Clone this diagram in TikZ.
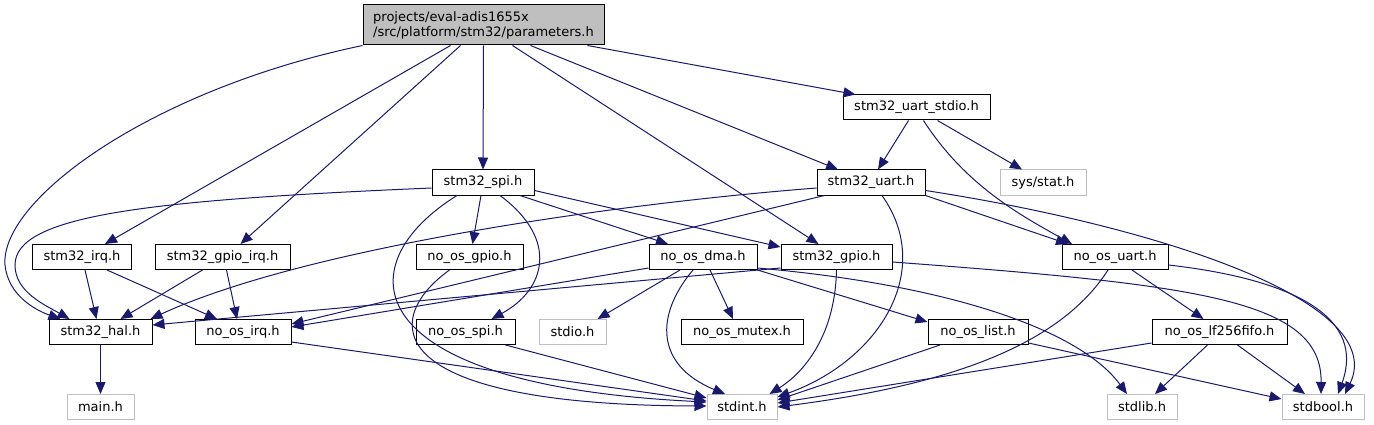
\documentclass[tikz,border=0pt]{standalone}
\usepackage{fontspec}
\setmainfont{DejaVu Sans}
\usetikzlibrary{arrows.meta}
\definecolor{edgeblue}{HTML}{191970}
\definecolor{rootgray}{HTML}{BFBFBF}
\definecolor{sysgray}{HTML}{BFBFBF}

\begin{document}
\begin{tikzpicture}[x=1pt, y=-1pt,
    hdr/.style={draw=black, fill=white, line width=1pt, minimum height=25pt, inner sep=0pt, font=\fontsize{13}{15}\selectfont},
    syshdr/.style={hdr, draw=sysgray},
    roothdr/.style={hdr, fill=rootgray, minimum height=40pt, align=left},
    dep/.style={draw=edgeblue, line width=1pt, -{Triangle[length=12pt,width=10pt]}}]
  \useasboundingbox (0,0) rectangle (1374,425);

  % Fichero de parametros (raiz)
  \node[roothdr, minimum width=241pt] (root) at (483.5,25) {projects/eval-adis1655x\\/src/platform/stm32/parameters.h};

  % Segunda fila
  \node[hdr, minimum width=147pt] (uartstdio) at (916.5,107.5) {stm32\_uart\_stdio.h};

  % Tercera fila
  \node[hdr, minimum width=102pt] (spi) at (483,182.5) {stm32\_spi.h};
  \node[hdr, minimum width=108pt] (uart) at (871,182.5) {stm32\_uart.h};
  \node[syshdr, minimum width=86pt] (stat) at (1043,182.5) {sys/stat.h};

  % Cuarta fila
  \node[hdr, minimum width=99pt] (irq) at (82,257) {stm32\_irq.h};
  \node[hdr, minimum width=135pt] (gpioirq) at (222.5,257) {stm32\_gpio\_irq.h};
  \node[hdr, minimum width=107pt] (nogpio) at (469.5,257) {no\_os\_gpio.h};
  \node[hdr, minimum width=108pt] (dma) at (703,257) {no\_os\_dma.h};
  \node[hdr, minimum width=111pt] (gpio) at (836.5,257) {stm32\_gpio.h};
  \node[hdr, minimum width=106pt] (nouart) at (1115,257) {no\_os\_uart.h};

  % Quinta fila
  \node[hdr, minimum width=103pt] (hal) at (100.5,332) {stm32\_hal.h};
  \node[hdr, minimum width=96pt] (noirq) at (243,332) {no\_os\_irq.h};
  \node[hdr, minimum width=99pt] (nospi) at (465.5,332) {no\_os\_spi.h};
  \node[syshdr, minimum width=67pt] (stdioh) at (572.5,332) {stdio.h};
  \node[hdr, minimum width=122pt] (mutex) at (742,332) {no\_os\_mutex.h};
  \node[hdr, minimum width=100pt] (list) at (978,332) {no\_os\_list.h};
  \node[hdr, minimum width=135pt] (fifo) at (1219.5,332) {no\_os\_lf256fifo.h};

  % Cabeceras del sistema
  \node[syshdr, minimum width=67pt] (mainh) at (100.5,407) {main.h};
  \node[syshdr, minimum width=70pt] (stdint) at (742,407) {stdint.h};
  \node[syshdr, minimum width=70pt] (stdlib) at (1142,407) {stdlib.h};
  \node[syshdr, minimum width=82pt] (stdbool) at (1323,407) {stdbool.h};

  % Dependencias de la raiz
  \draw[dep] (root.south west) .. controls (150,90) and (0,200) .. (5,265) .. controls (8,295) and (35,310) .. ([xshift=12pt]hal.north west);
  \draw[dep] ([xshift=-33pt]root.south) -- ([xshift=23pt]irq.north);
  \draw[dep] ([xshift=-23pt]root.south) -- ([xshift=18pt]gpioirq.north);
  \draw[dep] (root.south) -- (spi.north);
  \draw[dep] ([xshift=29pt]root.south) -- ([xshift=-18pt]gpio.north);
  \draw[dep] ([xshift=47pt]root.south) -- ([xshift=-33pt]uart.north);
  \draw[dep] ([xshift=104pt]root.south) -- ([xshift=-61pt]uartstdio.north);

  % stm32_uart_stdio.h
  \draw[dep] ([xshift=-8pt]uartstdio.south) -- ([xshift=7pt]uart.north);
  \draw[dep] ([xshift=21pt]uartstdio.south) -- ([xshift=-21pt]stat.north);
  \draw[dep] ([xshift=7pt]uartstdio.south) .. controls (965,185) and (1020,215) .. ([xshift=-43pt]nouart.north);

  % stm32_uart.h
  \draw[dep] (uart.south east) -- ([xshift=-47pt]nouart.north);
  \draw[dep] ([yshift=5pt]uart.south east) .. controls (1150,225) and (1390,300) .. ([xshift=22pt]stdbool.north);
  \draw[dep] ([xshift=11pt]uart.south) .. controls (935,270) and (880,360) .. ([yshift=-3pt]stdint.north east);
  \draw[dep] ([yshift=-5.5pt]uart.west) .. controls (600,205) and (300,250) .. ([xshift=-2pt]hal.north east);
  \draw[dep] ([xshift=8pt]uart.south west) -- ([yshift=-5pt]noirq.north east);

  % stm32_spi.h
  \draw[dep] ([xshift=-2pt]spi.south) -- ([xshift=3pt]nogpio.north);
  \draw[dep] ([xshift=37pt]spi.south) -- ([xshift=-35pt]dma.north);
  \draw[dep] ([yshift=5pt]spi.south east) -- ([yshift=-3pt]gpio.north west);
  \draw[dep] ([xshift=17pt]spi.south) .. controls (560,240) and (545,290) .. ([xshift=26pt]nospi.north);
  \draw[dep] ([xshift=-26pt]spi.south) .. controls (345,265) and (355,385) .. ([yshift=-8pt]stdint.north west);
  \draw[dep] ([yshift=-5.5pt]spi.west) .. controls (150,200) and (15,215) .. (15,265) .. controls (15,292) and (45,305) .. ([xshift=21pt]hal.north west);

  % stm32_gpio.h
  \draw[dep] ([yshift=2pt]gpio.south west) -- ([yshift=-6pt]hal.north east);
  \draw[dep] (gpio.south) .. controls (835,340) and (800,375) .. ([xshift=-8pt]stdint.north east);
  \draw[dep] ([yshift=-5pt]gpio.east) .. controls (1200,285) and (1322,300) .. ([xshift=-2pt]stdbool.north);

  % no_os_dma.h
  \draw[dep] ([yshift=2pt]dma.south west) -- ([yshift=-8pt]noirq.north east);
  \draw[dep] ([yshift=2pt]dma.south east) .. controls (950,285) and (1080,330) .. ([xshift=-15pt]stdlib.north);
  \draw[dep] (dma.south east) -- ([yshift=-3pt]list.north west);
  \draw[dep] ([xshift=-23pt]dma.south) -- ([xshift=25pt]stdioh.north);
  \draw[dep] ([xshift=7pt]dma.south) -- ([xshift=-9pt]mutex.north);
  \draw[dep] ([xshift=-10pt]dma.south) .. controls (655,315) and (655,365) .. ([xshift=-17pt]stdint.north);

  % no_os_uart.h
  \draw[dep] ([xshift=-7pt]nouart.south) .. controls (1060,345) and (950,385) .. (stdint.east);
  \draw[dep] ([xshift=17pt]nouart.south) -- ([xshift=-16pt]fifo.north);
  \draw[dep] ([yshift=-8pt]nouart.east) .. controls (1300,280) and (1365,320) .. ([xshift=15pt]stdbool.north);

  % Fila de irq / gpio_irq
  \draw[dep] ([xshift=3pt]irq.south) -- ([xshift=-4pt]hal.north);
  \draw[dep] ([xshift=25pt]irq.south) -- ([xshift=-26pt]noirq.north);
  \draw[dep] ([xshift=-20pt]gpioirq.south) -- ([xshift=20pt]hal.north);
  \draw[dep] ([xshift=4pt]gpioirq.south) -- ([xshift=-6pt]noirq.north);
  \draw[dep] (hal.south) -- (mainh.north);

  % Hacia stdint.h
  \draw[dep] ([xshift=-20pt]nogpio.south) .. controls (380,320) and (380,405) .. ([yshift=-12pt]stdint.north west);
  \draw[dep] ([xshift=40pt]nospi.south) -- ([yshift=-4pt]stdint.north west);
  \draw[dep] ([yshift=3pt]noirq.south east) -- ([yshift=-7pt]stdint.north west);

  % no_os_list.h y no_os_lf256fifo.h
  \draw[dep] ([xshift=-38pt]list.south) -- ([yshift=-6pt]stdint.north east);
  \draw[dep] ([yshift=2pt]list.south east) -- ([yshift=-5pt]stdbool.north west);
  \draw[dep] ([yshift=2pt]fifo.south west) -- ([yshift=-9pt]stdint.north east);
  \draw[dep] ([xshift=-12pt]fifo.south) -- ([xshift=13pt]stdlib.north);
  \draw[dep] ([xshift=18pt]fifo.south) -- ([xshift=-18pt]stdbool.north);
\end{tikzpicture}
\end{document}
